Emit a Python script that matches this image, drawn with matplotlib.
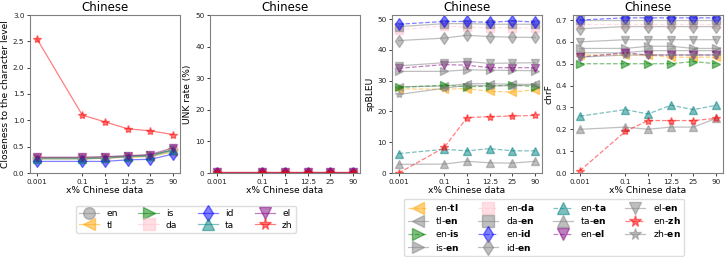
import matplotlib
matplotlib.use("Agg")
import matplotlib.pyplot as plt

x_labels = ['0.001', '0.1', '1', '12.5', '25', '90']
x_pos = [0, 2, 3, 4, 5, 6]

langs = ['en', 'tl', 'is', 'da', 'id', 'ta', 'el', 'zh']
colors = {'en': 'gray', 'tl': 'orange', 'is': 'green', 'da': 'pink',
          'id': 'blue', 'ta': 'teal', 'el': 'purple', 'zh': 'red'}
markers = {'en': 'o', 'tl': '<', 'is': '>', 'da': 's',
           'id': 'd', 'ta': '^', 'el': 'v', 'zh': '*'}

# Panel 1: closeness to the character level
closeness = {
    'en': [0.28, 0.28, 0.29, 0.31, 0.33, 0.45],
    'tl': [0.27, 0.27, 0.28, 0.30, 0.31, 0.40],
    'is': [0.29, 0.29, 0.30, 0.32, 0.34, 0.44],
    'da': [0.28, 0.28, 0.29, 0.31, 0.32, 0.42],
    'id': [0.22, 0.22, 0.22, 0.25, 0.26, 0.36],
    'ta': [0.27, 0.27, 0.28, 0.31, 0.32, 0.43],
    'el': [0.30, 0.30, 0.31, 0.33, 0.35, 0.48],
    'zh': [2.55, 1.10, 0.97, 0.84, 0.80, 0.73],
}

# Panel 2: UNK rate (%)
unk = {
    'en': [0.1, 0.1, 0.1, 0.1, 0.1, 0.1],
    'tl': [0.1, 0.1, 0.1, 0.1, 0.1, 0.1],
    'is': [0.1, 0.1, 0.1, 0.1, 0.1, 0.1],
    'da': [0.2, 0.2, 0.2, 0.2, 0.2, 0.2],
    'id': [0.1, 0.1, 0.1, 0.1, 0.1, 0.1],
    'ta': [0.1, 0.1, 0.1, 0.1, 0.1, 0.1],
    'el': [0.2, 0.2, 0.2, 0.2, 0.2, 0.2],
    'zh': [0.3, 0.3, 0.3, 0.3, 0.3, 0.3],
}

pair_langs = ['tl', 'is', 'da', 'id', 'ta', 'el', 'zh']

# Panel 3: spBLEU
spbleu_en_x = {
    'tl': [27.3, 27.2, 27.4, 26.5, 26.3, 27.0],
    'is': [27.8, 28.5, 28.0, 28.2, 28.6, 28.0],
    'da': [46.5, 47.8, 47.3, 47.2, 47.2, 47.0],
    'id': [48.3, 49.2, 49.2, 48.9, 49.4, 49.0],
    'ta': [6.3, 7.7, 7.2, 7.9, 7.2, 7.2],
    'el': [34.0, 35.2, 35.0, 34.2, 34.2, 34.2],
    'zh': [0.0, 8.3, 18.0, 18.3, 18.5, 18.7],
}
spbleu_x_en = {
    'tl': [28.0, 28.2, 29.0, 29.0, 28.8, 28.8],
    'is': [33.0, 33.0, 33.5, 33.4, 33.3, 33.2],
    'da': [47.5, 48.5, 48.5, 48.3, 48.3, 48.3],
    'id': [43.0, 43.8, 44.7, 44.3, 44.1, 44.0],
    'ta': [2.8, 2.9, 3.8, 3.3, 3.2, 3.8],
    'el': [34.8, 35.8, 36.2, 35.6, 35.7, 35.8],
    'zh': [25.5, 27.5, 28.5, 28.3, 28.3, 28.6],
}

# Panel 4: chrF
chrf_en_x = {
    'tl': [0.54, 0.54, 0.54, 0.53, 0.53, 0.53],
    'is': [0.50, 0.50, 0.50, 0.50, 0.51, 0.50],
    'da': [0.68, 0.68, 0.68, 0.68, 0.68, 0.68],
    'id': [0.70, 0.71, 0.71, 0.71, 0.71, 0.71],
    'ta': [0.26, 0.29, 0.27, 0.31, 0.29, 0.31],
    'el': [0.53, 0.55, 0.54, 0.54, 0.54, 0.54],
    'zh': [0.01, 0.19, 0.24, 0.24, 0.24, 0.25],
}
chrf_x_en = {
    'tl': [0.55, 0.55, 0.56, 0.56, 0.56, 0.56],
    'is': [0.57, 0.57, 0.58, 0.58, 0.57, 0.57],
    'da': [0.70, 0.70, 0.70, 0.70, 0.70, 0.70],
    'id': [0.66, 0.67, 0.67, 0.67, 0.67, 0.67],
    'ta': [0.20, 0.21, 0.20, 0.21, 0.21, 0.25],
    'el': [0.60, 0.61, 0.61, 0.61, 0.61, 0.61],
    'zh': [0.53, 0.54, 0.54, 0.54, 0.54, 0.54],
}

TICK_FS = 5.2
LABEL_FS = 6.6
TITLE_FS = 8.5
LEG_FS = 6.6
MS = 6
ALPHA = 0.5
SPINE = '#808080'

fig = plt.figure(figsize=(7.27, 2.57), dpi=100)
W, H = 727.0, 257.0
boxes = [(30, 180), (210, 360), (392, 542), (573, 723)]
axes = []
for (l, r) in boxes:
    ax = fig.add_axes([l / W, 1 - 173 / H, (r - l) / W, (173 - 15) / H])
    axes.append(ax)


def style(ax, ylabel):
    ax.set_xticks(x_pos)
    ax.set_xticklabels(x_labels)
    ax.tick_params(labelsize=TICK_FS, length=2.5, width=0.6, pad=1.5, colors='#222222')
    ax.set_title('Chinese', fontsize=TITLE_FS, pad=3)
    ax.set_xlabel('x% Chinese data', fontsize=LABEL_FS, labelpad=1)
    ax.set_ylabel(ylabel, fontsize=LABEL_FS, labelpad=2)
    for s in ax.spines.values():
        s.set_color(SPINE)
        s.set_linewidth(0.8)


# Panel 1
ax = axes[0]
h1 = []
for lg in langs:
    ln, = ax.plot(x_pos, closeness[lg], color=colors[lg], marker=markers[lg],
                  markersize=MS, alpha=ALPHA, linewidth=0.9, label=lg)
    h1.append(ln)
ax.set_ylim(0, 3.0)
ax.set_yticks([0.0, 0.5, 1.0, 1.5, 2.0, 2.5, 3.0])
style(ax, 'Closeness to the character level')

# Panel 2
ax = axes[1]
for lg in langs:
    ax.plot(x_pos, unk[lg], color=colors[lg], marker=markers[lg],
            markersize=MS, alpha=ALPHA, linewidth=0.9)
ax.set_ylim(0, 50)
ax.set_yticks([0, 10, 20, 30, 40, 50])
style(ax, 'UNK rate (%)')


def pair_panel(ax, en_x, x_en):
    handles = []
    for lg in pair_langs:
        a, = ax.plot(x_pos, en_x[lg], color=colors[lg], marker=markers[lg],
                     markersize=MS, alpha=ALPHA, linewidth=0.9, linestyle='--',
                     label='en-$\\bf{' + lg + '}$')
        b, = ax.plot(x_pos, x_en[lg], color='gray', marker=markers[lg],
                     markersize=MS, alpha=ALPHA, linewidth=0.9, linestyle='-',
                     label=lg + '-$\\bf{en}$')
        handles += [a, b]
    return handles


h3 = pair_panel(axes[2], spbleu_en_x, spbleu_x_en)
axes[2].set_ylim(0, 51.3)
axes[2].set_yticks([0, 10, 20, 30, 40, 50])
style(axes[2], 'spBLEU')

pair_panel(axes[3], chrf_en_x, chrf_x_en)
axes[3].set_ylim(0, 0.723)
axes[3].set_yticks([0.0, 0.1, 0.2, 0.3, 0.4, 0.5, 0.6, 0.7])
style(axes[3], 'chrF')

fig.legend(handles=h1, labels=langs, ncol=4, loc='upper center',
           bbox_to_anchor=(186 / W, 1 - 201 / H), fontsize=LEG_FS,
           markerscale=1.4, handlelength=2.2, columnspacing=2.2,
           handletextpad=0.8, labelspacing=0.3, borderpad=0.35, framealpha=1,
           edgecolor='#dddddd')
fig.legend(handles=h3, labels=[h.get_label() for h in h3], ncol=4, loc='upper center',
           bbox_to_anchor=(544 / W, 1 - 194 / H), fontsize=LEG_FS,
           markerscale=1.4, handlelength=2.2, columnspacing=2.0,
           handletextpad=0.8, labelspacing=0.25, borderpad=0.35, framealpha=1,
           edgecolor='#dddddd')

fig.savefig('out.png', dpi=100)
